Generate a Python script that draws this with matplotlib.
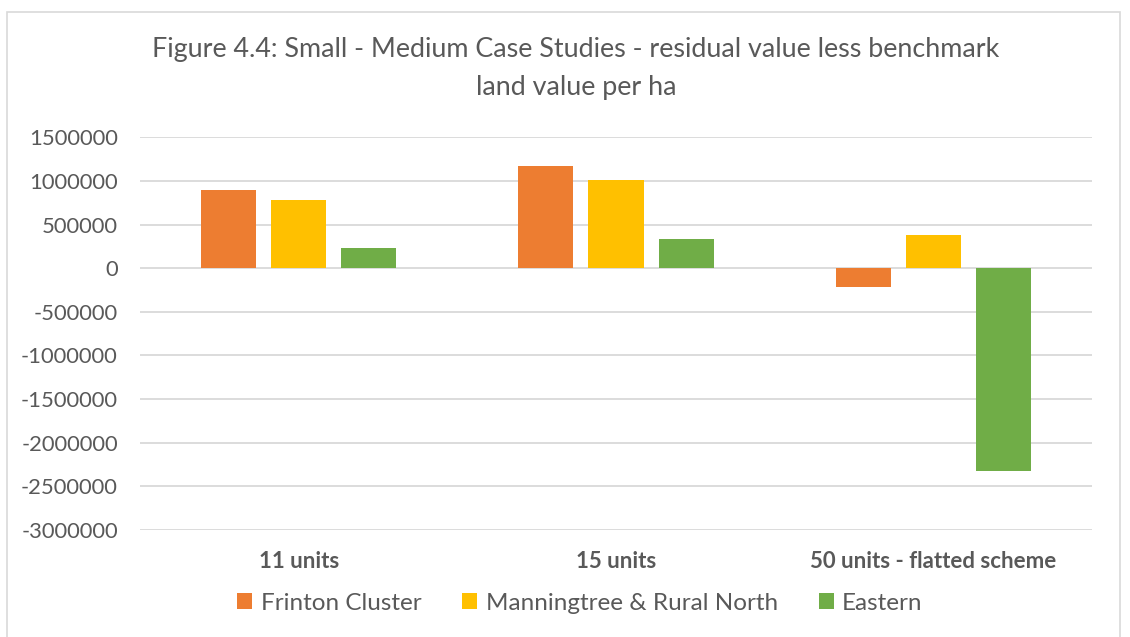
import matplotlib.pyplot as plt
import numpy as np

categories = ['11 units', '15 units', '50 units - flatted scheme']
frinton = [896000, 1176000, -210000]
manningtree = [782000, 1015000, 382000]
eastern = [234000, 333000, -2326000]
series_names = ['Frinton Cluster', 'Manningtree & Rural North', 'Eastern']
yticks = [1500000, 1000000, 500000, 0, -500000, -1000000, -1500000,
          -2000000, -2500000, -3000000]

colors = ['#ED7D31', '#FFC000', '#70AD47']
txt = '#595959'
plt.rcParams['font.family'] = ['Lato', 'DejaVu Sans']

W, H = 1130, 637
fig = plt.figure(figsize=(W / 100, H / 100), dpi=100)
ax = fig.add_axes([140 / W, 1 - 530 / H, (1092 - 140) / W, (530 - 137.3) / H])

x = np.arange(len(categories))
bw = 0.174
step = 0.221
for i, (vals, name) in enumerate(zip([frinton, manningtree, eastern], series_names)):
    ax.bar(x + (i - 1) * step, vals, width=bw, color=colors[i], label=name, zorder=3)

ax.set_xlim(-0.5, 2.5)
ax.set_ylim(-3000000, 1500000)
ax.set_yticks(yticks)
ax.set_yticklabels([str(v) for v in yticks], fontsize=15.8, color=txt)
ax.yaxis.grid(True, color='#D9D9D9', linewidth=1.3, zorder=0)
ax.tick_params(axis='y', length=0, pad=16)
ax.tick_params(axis='x', length=0, pad=15)
ax.set_xticks(x)
ax.set_xticklabels(categories, fontsize=16, fontweight='bold', color=txt)
for s in ax.spines.values():
    s.set_visible(False)

fig.text(576 / W, 1 - 50 / H, 'Figure 4.4: Small - Medium Case Studies - residual value less benchmark',
         ha='center', va='center', fontsize=19.4, color=txt)
fig.text(576 / W, 1 - 87 / H, 'land value per ha', ha='center', va='center',
         fontsize=19.4, color=txt)

fig.legend(loc='center', bbox_to_anchor=(580 / W, 1 - 603 / H), ncol=3, frameon=False,
           fontsize=17.5, labelcolor=txt, handlelength=0.6, handleheight=0.6,
           handletextpad=0.35, columnspacing=1.7)

# chart border
border = plt.Rectangle((7 / W, -0.01), (1120 - 7) / W, 1 - 12 / H + 0.01, transform=fig.transFigure,
                       fill=False, edgecolor='#D9D9D9', linewidth=1.2)
fig.add_artist(border)

fig.savefig('out.png', dpi=100)
